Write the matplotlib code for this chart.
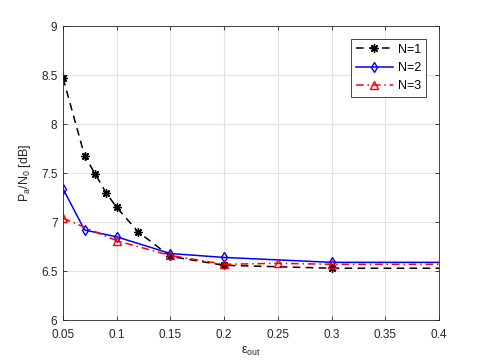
import numpy as np
import matplotlib
matplotlib.use('Agg')
import matplotlib.pyplot as plt

plt.rcParams['font.family'] = ['Liberation Sans', 'DejaVu Sans']
plt.rcParams['mathtext.fontset'] = 'custom'
plt.rcParams['mathtext.rm'] = 'Liberation Sans'
plt.rcParams['mathtext.it'] = 'Liberation Sans'

# data
x1 = [0.05, 0.07, 0.08, 0.09, 0.10, 0.12, 0.15, 0.20, 0.30, 0.50]
y1 = [8.47, 7.68, 7.49, 7.30, 7.15, 6.90, 6.65, 6.56, 6.53, 6.53]
x2 = [0.05, 0.07, 0.10, 0.15, 0.20, 0.30, 0.50]
y2 = [7.34, 6.92, 6.85, 6.68, 6.64, 6.59, 6.59]
x3 = [0.05, 0.10, 0.15, 0.20, 0.25, 0.30, 0.50]
y3 = [7.04, 6.81, 6.66, 6.57, 6.58, 6.57, 6.57]
xticks = [0.05, 0.1, 0.15, 0.2, 0.25, 0.3, 0.35, 0.4]
xticklabels = ['0.05', '0.1', '0.15', '0.2', '0.25', '0.3', '0.35', '0.4']
yticks = [6, 6.5, 7, 7.5, 8, 8.5, 9]
yticklabels = ['6', '6.5', '7', '7.5', '8', '8.5', '9']

fig = plt.figure(figsize=(4.85, 3.63), dpi=100)
ax = fig.add_axes([0.13, 0.118, 0.775, 0.81])

ax.plot(x1, y1, color='k', ls=(0, (5, 3.5)), marker=(8, 2, 0), markersize=6, mew=1,
        lw=1.1, label='N=1')
ax.plot(x2, y2, '-', color='b', marker='d', markersize=5, mfc='none', mew=1, lw=1.1, label='N=2')
ax.plot(x3, y3, color='r', ls=(0, (5, 2.5, 1, 2.5)), marker='^', markersize=6, mfc='none',
        mew=1, lw=1.1, label='N=3')

ax.set_xlim(0.05, 0.4)
ax.set_ylim(6, 9)
ax.set_xticks(xticks)
ax.set_xticklabels(xticklabels)
ax.set_yticks(yticks)
ax.set_yticklabels(yticklabels)
ax.grid(True, color='#e3e3e3', lw=0.8)
ax.set_axisbelow(True)
ax.tick_params(direction='in', length=3, width=0.6, colors='#262626', labelsize=8.5,
               top=True, right=True)
ax.tick_params(axis='x', pad=6.5)
ax.tick_params(axis='y', pad=4)
for s in ax.spines.values():
    s.set_color('#262626')
    s.set_linewidth(0.6)

ax.set_xlabel(r'$\epsilon_{\mathrm{out}}$', fontsize=9, color='#262626', labelpad=3)
ax.set_ylabel(r'P$_a$/N$_0$ [dB]', fontsize=9, color='#262626', labelpad=6)

leg = ax.legend(loc='upper right', fontsize=9, fancybox=False, framealpha=1,
                edgecolor='#262626', handlelength=3, borderaxespad=1.0,
                handletextpad=0.4)
leg.get_frame().set_linewidth(0.6)

fig.savefig('out.png', dpi=100)
